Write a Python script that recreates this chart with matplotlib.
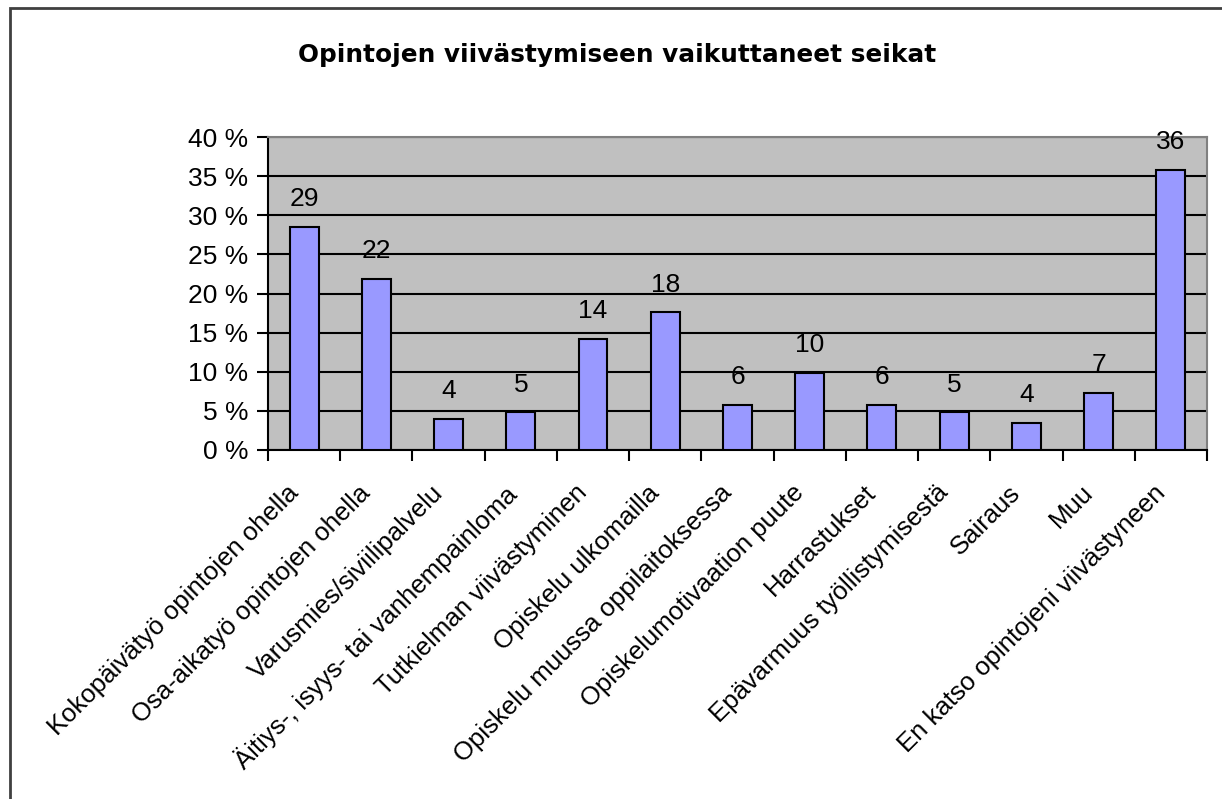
import matplotlib.pyplot as plt
from matplotlib.patches import Rectangle
from matplotlib.ticker import MultipleLocator, FuncFormatter
from matplotlib.transforms import ScaledTranslation

categories = [
    "Kokopäivätyö opintojen ohella",
    "Osa-aikatyö opintojen ohella",
    "Varusmies/siviilipalvelu",
    "Äitiys-, isyys- tai vanhempainloma",
    "Tutkielman viivästyminen",
    "Opiskelu ulkomailla",
    "Opiskelu muussa oppilaitoksessa",
    "Opiskelumotivaation puute",
    "Harrastukset",
    "Epävarmuus työllistymisestä",
    "Sairaus",
    "Muu",
    "En katso opintojeni viivästyneen",
]
values = [28.5, 21.9, 4.0, 4.8, 14.2, 17.6, 5.8, 9.9, 5.8, 4.8, 3.5, 7.3, 35.8]
labels = ["29", "22", "4", "5", "14", "18", "6", "10", "6", "5", "4", "7", "36"]

plt.rcParams['font.family'] = ['Liberation Sans', 'DejaVu Sans']

fig = plt.figure(figsize=(12.22, 7.99), dpi=100)
ax = fig.add_axes([0.2193, 0.4368, 0.9877 - 0.2193, 0.8285 - 0.4368])

x = list(range(len(categories)))
ax.bar(x, values, width=0.4, color="#9999FF", edgecolor="black", linewidth=1.5, zorder=3)
for xi, v, lab in zip(x, values, labels):
    ax.annotate(lab, (xi, v), xytext=(0, 20), textcoords="offset points",
                ha="center", va="center", fontsize=19, zorder=4)

ax.set_facecolor("#C0C0C0")
ax.set_xlim(-0.5, len(categories) - 0.5)
ax.set_ylim(0, 40)
ax.yaxis.set_major_locator(MultipleLocator(5))
ax.yaxis.set_major_formatter(FuncFormatter(lambda v, p: f"{v:.0f} %"))
ax.grid(axis="y", color="black", linewidth=1.5, zorder=1)
ax.tick_params(axis="y", labelsize=19, length=8, width=1.5, direction="out", pad=6)

ax.set_xticks(x)
ax.set_xticklabels(categories, rotation=45, ha="right", rotation_mode="anchor", fontsize=18.5)
ax.tick_params(axis="x", which="major", length=0, pad=22)
shift = ScaledTranslation(-18 / 100, 0, fig.dpi_scale_trans)
for t in ax.get_xticklabels():
    t.set_transform(t.get_transform() + shift)
ax.set_xticks([i - 0.5 for i in range(len(categories) + 1)], minor=True)
ax.tick_params(axis="x", which="minor", length=8, width=1.5, direction="out")

for s in ["left", "bottom"]:
    ax.spines[s].set_color("black")
    ax.spines[s].set_linewidth(1.5)
for s in ["top", "right"]:
    ax.spines[s].set_color("#808080")
    ax.spines[s].set_linewidth(1.5)

fig.text(0.505, 0.931, "Opintojen viivästymiseen vaikuttaneet seikat",
         ha="center", va="center", fontsize=17.8, fontweight="bold", family=["DejaVu Sans"])

fig.patches.append(Rectangle((10 / 1222, -0.05), 1.1, 1 - 8 / 799 + 0.05,
                             transform=fig.transFigure, fill=False,
                             edgecolor="#404040", linewidth=2))

fig.savefig("out.png", dpi=100)
